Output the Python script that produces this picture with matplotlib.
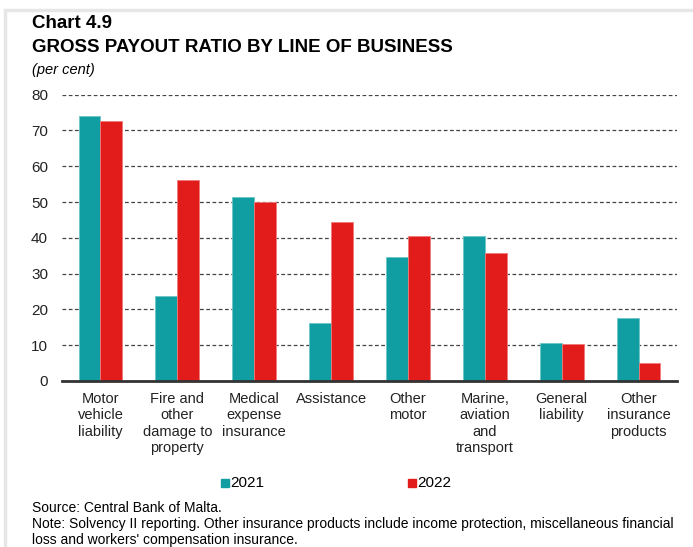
#!/usr/bin/env python3
"""Gross payout ratio by line of business (Chart 4.9)."""

import matplotlib.pyplot as plt
import numpy as np
from matplotlib.patches import Rectangle

plt.rcParams["font.family"] = ["Liberation Sans", "DejaVu Sans"]

categories = [
    "Motor\nvehicle\nliability",
    "Fire and\nother\ndamage to\nproperty",
    "Medical\nexpense\ninsurance",
    "Assistance",
    "Other\nmotor",
    "Marine,\naviation\nand\ntransport",
    "General\nliability",
    "Other\ninsurance\nproducts",
]
values_2021 = [74.0, 23.8, 51.3, 16.1, 34.7, 40.5, 10.5, 17.5]
values_2022 = [72.7, 56.1, 50.1, 44.3, 40.6, 35.7, 10.3, 5.1]
series_labels = ["2021", "2022"]
yticks = [0, 10, 20, 30, 40, 50, 60, 70, 80]

TEAL = "#109ea3"
RED = "#e21b1b"

W, H = 693, 547
fig = plt.figure(figsize=(W / 100, H / 100), dpi=100)

# light frame round the chart
fig.add_artist(Rectangle((5 / W, -0.1), 1.2, 1.1 - 10 / H, transform=fig.transFigure,
                         fill=False, edgecolor="#e6e6e6", lw=2.5))

ax = fig.add_axes([62 / W, 1 - 381 / H, (677 - 62) / W, (381 - 94.7) / H])

x = np.arange(len(categories))
bw = 0.285
ax.bar(x - bw / 2, values_2021, bw, color=TEAL, edgecolor="#6cc6c9", lw=0.6, zorder=3)
ax.bar(x + bw / 2, values_2022, bw, color=RED, edgecolor="#f07a7a", lw=0.6, zorder=3)

ax.set_xlim(-0.5, len(categories) - 0.5)
ax.set_ylim(0, 80)
ax.set_yticks(yticks)
ax.yaxis.grid(True, linestyle=(0, (3, 2)), color="#444444", lw=0.9, zorder=0)
ax.set_axisbelow(True)
for s in ["top", "right", "left"]:
    ax.spines[s].set_visible(False)
ax.spines["bottom"].set_color("#333333")
ax.spines["bottom"].set_linewidth(2)
ax.spines["bottom"].set_zorder(4)
ax.tick_params(axis="y", length=0, pad=10, labelsize=11, colors="#222222")
ax.tick_params(axis="x", length=0, pad=8, labelsize=10.5, colors="#222222")
ax.set_xticks(x)
ax.set_xticklabels(categories, linespacing=1.2, va="top")

# titles
fig.text(32 / W, 1 - 24 / H, "Chart 4.9", fontsize=13.5, fontweight="bold", va="center")
fig.text(32 / W, 1 - 48 / H, "GROSS PAYOUT RATIO BY LINE OF BUSINESS", fontsize=13.5,
         fontweight="bold", va="center")
fig.text(32 / W, 1 - 70 / H, "(per cent)", fontsize=10.5, style="italic", va="center")

# legend
for lx, label, col in [(221, series_labels[0], TEAL), (408, series_labels[1], RED)]:
    fig.add_artist(Rectangle((lx / W, 1 - 487 / H), 8 / W, 8 / H,
                             transform=fig.transFigure, color=col))
    fig.text((lx + 9) / W, 1 - 483 / H, label, fontsize=11, va="center")

fig.text(32 / W, 1 - 508 / H, "Source: Central Bank of Malta.", fontsize=10, va="center")
fig.text(32 / W, 1 - 524 / H,
         "Note: Solvency II reporting. Other insurance products include income protection, "
         "miscellaneous financial", fontsize=10, va="center")
fig.text(32 / W, 1 - 540 / H, "loss and workers' compensation insurance.",
         fontsize=10, va="center")

fig.savefig("out.png", dpi=100)
